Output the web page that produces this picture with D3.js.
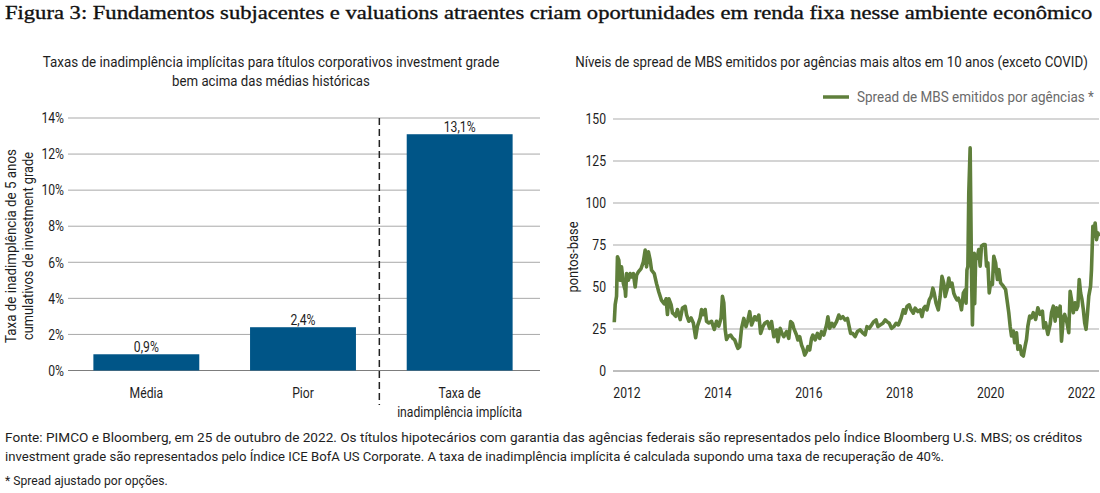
<!DOCTYPE html>
<html><head><meta charset="utf-8">
<script src="https://cdn.jsdelivr.net/npm/d3@7/dist/d3.min.js"></script>
<style>
body{margin:0;background:#fff;}
svg{display:block;}
text{font-family:Roboto,"Liberation Sans",sans-serif;fill:#1e1e1e;}
text.serif{font-family:"Liberation Serif","DejaVu Serif",serif;fill:#111;stroke:#111;stroke-width:0.35px;}
</style></head><body>
<svg id="c" width="1100" height="493"></svg>
<script>
// ---------- DATA ----------
const titleText = "Figura 3: Fundamentos subjacentes e valuations atraentes criam oportunidades em renda fixa nesse ambiente econômico";
const leftTitle = ["Taxas de inadimplência implícitas para títulos corporativos investment grade", "bem acima das médias históricas"];
const leftAxisTitle = ["Taxa de inadimplência de 5 anos", "cumulativos de investment grade"];
const barCategories = ["Média", "Pior", "Taxa de\ninadimplência implícita"];
const barValues = [0.9, 2.4, 13.1];
const barLabels = ["0,9%", "2,4%", "13,1%"];
const barTicks = [0, 2, 4, 6, 8, 10, 12, 14];

const rightTitle = "Níveis de spread de MBS emitidos por agências mais altos em 10 anos (exceto COVID)";
const rightAxisTitle = "pontos-base";
const legendLabel = "Spread de MBS emitidos por agências *";
const spreadTicksY = [0, 25, 50, 75, 100, 125, 150];
const spreadTicksX = [2012, 2014, 2016, 2018, 2020, 2022];
const spreadYears = [
 2011.72,2011.74,2011.77,2011.79,2011.82,2011.85,2011.88,2011.92,2011.96,2011.97,2011.99,
 2012.03,2012.07,2012.10,2012.14,2012.18,2012.21,2012.25,2012.31,2012.36,2012.40,2012.43,2012.47,2012.51,2012.54,2012.60,2012.65,2012.70,2012.76,2012.82,2012.86,2012.89,2012.92,2012.97,
 2013.00,2013.04,2013.07,2013.11,2013.17,2013.22,2013.28,2013.31,2013.36,2013.41,2013.46,2013.51,2013.55,2013.61,2013.64,2013.68,2013.72,2013.75,2013.80,2013.86,2013.92,2013.97,
 2014.02,2014.07,2014.10,2014.13,2014.16,2014.19,2014.23,2014.28,2014.33,2014.37,2014.41,2014.44,2014.48,2014.52,2014.57,2014.62,2014.66,2014.70,2014.74,2014.77,2014.81,2014.85,2014.90,2014.94,2014.99,
 2015.03,2015.09,2015.14,2015.18,2015.23,2015.29,2015.32,2015.37,2015.41,2015.45,2015.51,2015.56,2015.60,2015.64,2015.67,2015.73,2015.76,2015.80,2015.84,2015.87,2015.91,2015.95,2015.98,
 2016.02,2016.06,2016.09,2016.14,2016.19,2016.24,2016.28,2016.33,2016.39,2016.42,2016.46,2016.51,2016.55,2016.61,2016.66,2016.70,2016.75,2016.80,2016.85,2016.88,2016.92,2016.96,
 2017.02,2017.07,2017.13,2017.18,2017.24,2017.28,2017.33,2017.38,2017.43,2017.48,2017.52,2017.57,2017.63,2017.68,2017.72,2017.77,2017.82,2017.87,2017.92,2017.97,
 2018.03,2018.08,2018.12,2018.16,2018.21,2018.25,2018.30,2018.34,2018.40,2018.45,2018.49,2018.53,2018.56,2018.60,2018.65,2018.69,2018.73,2018.76,2018.80,2018.85,2018.89,2018.93,2018.97,
 2019.00,2019.04,2019.08,2019.11,2019.15,2019.19,2019.22,2019.26,2019.29,2019.33,2019.36,2019.40,2019.44,2019.46,2019.48,2019.50,2019.52,2019.55,2019.56,2019.58,2019.60,2019.62,2019.64,2019.65,2019.67,2019.71,2019.74,2019.77,2019.80,2019.84,2019.88,2019.91,2019.94,2019.97,
 2020.00,2020.04,2020.07,2020.11,2020.15,2020.18,2020.22,2020.28,2020.33,2020.37,2020.40,2020.43,2020.46,2020.50,2020.53,2020.57,2020.60,2020.65,2020.68,2020.72,2020.76,2020.79,2020.82,2020.86,2020.90,2020.94,2020.99,
 2021.04,2021.09,2021.14,2021.17,2021.21,2021.26,2021.31,2021.34,2021.38,2021.42,2021.45,2021.49,2021.53,2021.56,2021.60,2021.63,2021.68,2021.72,2021.75,2021.78,2021.82,2021.86,2021.89,2021.92,2021.95,2021.98,
 2022.01,2022.04,2022.07,2022.10,2022.13,2022.16,2022.20,2022.22,2022.25,2022.27,2022.30,2022.33,2022.36,2022.39
];
const spreadValues = [
 29,39.5,44.5,68,66,54,62,52,48,44.5,58,
 54,58,56,58,50,57,59,61,65,72,62,71,66,60,58,52,47,42,40,43,33.6,43,39.5,
 34.6,33.6,32.6,36.6,30.6,37.5,38.5,33.6,29.6,31.6,28.6,19.8,26.7,31.6,36.6,33.6,36.6,29.6,28.6,29.6,24.7,29.6,
 26.7,31.6,44.5,40.5,24.7,18.8,20.8,21.4,19.4,18.5,15.5,13.5,14.5,25.4,31.3,26.4,30.4,35.3,27.4,29.4,32.3,30.4,33.3,22.4,26.4,
 28.4,29.4,25.4,29.4,20.4,24.4,17.5,25.4,22.4,20.4,23.4,19.4,29.4,28.4,25.4,21.4,18.5,20.4,15.5,13.5,9.5,11.5,14.5,
 12.5,19.4,21.4,18.5,22.4,19.4,23.4,21.4,27.4,32.3,25.4,28.4,26.4,29.4,33.3,31.3,32.3,30.4,31.3,27.4,22.4,22.5,
 20.5,23.5,24.5,22.9,21.5,26.4,25.4,27.4,29.4,30.4,26.4,27.4,28.4,30.4,29.4,28.4,25.4,26.4,28.4,27.4,
 31.4,36.4,34.4,38.4,39.4,36.4,34.4,37.4,35.4,36.4,32.4,37.4,38.4,36.4,42.3,44.3,49.3,46.3,40.4,36.4,44.3,56.3,52.3,
 44.3,48.3,55.3,50.3,52.3,46.3,44.3,42.3,43.3,40.4,36.4,46.3,48.3,40.4,60.2,62.2,106,132.8,108,58,27.4,52.3,70,40,66,68.3,72.3,62.4,74.3,75.2,75.2,62.4,64.4,46.5,
 52.5,51.5,68.3,64.4,54.5,60.4,52.5,50.5,48.5,40.6,34.7,26.7,20.8,23.8,16.8,22.8,12.9,14.9,9.9,8.9,14.9,18.8,26.7,32.7,31.7,34.7,30.7,
 37.6,33.7,35.6,25.7,28.7,21.8,27.7,34.7,38.6,29.7,37.6,32.7,38.6,17.8,31.7,33.7,28.7,22.8,47.5,42.6,34.7,40.6,36.6,38.6,54.5,46.5,
 42.6,36.6,28.7,24.8,33.7,44.6,50.5,60.4,86.1,80.2,88.1,78.2,82.2,80.2
];
const footnotes = [
 "Fonte: PIMCO e Bloomberg, em 25 de outubro de 2022. Os títulos hipotecários com garantia das agências federais são representados pelo Índice Bloomberg U.S. MBS; os créditos",
 "investment grade são representados pelo Índice ICE BofA US Corporate. A taxa de inadimplência implícita é calculada supondo uma taxa de recuperação de 40%.",
 "* Spread ajustado por opções."
];

// ---------- DRAW ----------
const svg = d3.select("#c");
const BAR = "#005587", LINE = "#5f7f3b", GRID = "#a9a9a9", AXIS = "#7d7d7d";
const CONDENSE = 0.84;

// text helper: horizontally scales a text either to a target width or by the condensed factor
function txt(parent, s, o) {
  const t = parent.append("text").attr("font-size", o.size || 14).attr("text-anchor", o.anchor || "start").text(s);
  if (o.cls) t.attr("class", o.cls);
  if (o.fill) t.style("fill", o.fill);
  if (o.dy) t.attr("dy", o.dy);
  const nat = t.node().getComputedTextLength();
  const sx = o.width ? o.width / nat : CONDENSE;
  t.attr("transform", `translate(${o.x},${o.y})${o.rot ? ` rotate(${o.rot})` : ""} scale(${sx},1)`);
  return t;
}

txt(svg, titleText, { cls: "serif", x: 5, y: 19, size: 19, width: 1088 });

// ----- left panel -----
const xB = d3.scaleBand().domain(barCategories).range([68, 538]).paddingInner(0.324).paddingOuter(0.162);
const yB = d3.scaleLinear().domain([0, 14]).range([370.5, 118]);
const L = svg.append("g");
const lw = [457, 198];
leftTitle.forEach((s, i) => txt(L, s, { x: 271, y: 67 + i * 19, anchor: "middle", width: lw[i] }));

L.selectAll("line.g").data(barTicks).join("line")
  .attr("x1", 68).attr("x2", 540).attr("y1", d => yB(d)).attr("y2", d => yB(d))
  .attr("stroke", d => d === 0 ? AXIS : GRID).attr("stroke-width", 1);
barTicks.forEach(d => txt(L, d + "%", { x: 64, y: yB(d), dy: "0.36em", anchor: "end", size: 14.5 }));
L.selectAll("rect.bar").data(barValues).join("rect").attr("class", "bar")
  .attr("x", (d, i) => xB(barCategories[i])).attr("width", xB.bandwidth())
  .attr("y", d => yB(d)).attr("height", d => yB(0) - yB(d)).attr("fill", BAR);
barValues.forEach((d, i) => txt(L, barLabels[i], { x: xB(barCategories[i]) + xB.bandwidth() / 2, y: yB(d) - 2.5, anchor: "middle", size: 14.5 }));
barCategories.forEach(c => {
  c.split("\n").forEach((s, j) => txt(L, s, { x: xB(c) + xB.bandwidth() / 2, y: 398 + j * 19, anchor: "middle", size: 14.5 }));
});
const dashX = (xB(barCategories[1]) + xB.bandwidth() + xB(barCategories[2])) / 2 - 2;
L.append("line").attr("x1", dashX).attr("x2", dashX).attr("y1", 118).attr("y2", 405)
  .attr("stroke", "#222").attr("stroke-width", 1.5).attr("stroke-dasharray", "7,4");
const law = [194, 188];
leftAxisTitle.forEach((s, i) => txt(L, s, { x: 15.5 + i * 17.5, y: 246, rot: -90, anchor: "middle", width: law[i] }));

// ----- right panel -----
const xS = d3.scaleLinear().domain([2012, 2022]).range([627, 1081.5]);
const yS = d3.scaleLinear().domain([0, 150]).range([371, 119]);
const R = svg.append("g");
txt(R, rightTitle, { x: 831.5, y: 67, anchor: "middle", width: 513 });
R.append("line").attr("x1", 823).attr("x2", 849).attr("y1", 97).attr("y2", 97).attr("stroke", LINE).attr("stroke-width", 3.5);
txt(R, legendLabel, { x: 857, y: 102, width: 237, fill: "#6a6a6a" });

R.selectAll("line.g").data(spreadTicksY).join("line")
  .attr("x1", 613).attr("x2", 1099).attr("y1", d => yS(d)).attr("y2", d => yS(d))
  .attr("stroke", d => d === 0 ? AXIS : d === 150 ? "#d6d6d6" : GRID).attr("stroke-width", d => d === 150 ? 2 : 1);
spreadTicksY.forEach(d => txt(R, String(d), { x: 606, y: yS(d), dy: "0.36em", anchor: "end", size: 14.5 }));
spreadTicksX.forEach(d => txt(R, String(d), { x: xS(d), y: 398, anchor: "middle", size: 14.5 }));
txt(R, rightAxisTitle, { x: 578, y: 257, rot: -90, anchor: "middle", width: 71 });

const pts = spreadYears.map((y, i) => [y, spreadValues[i]]);
R.append("path").datum(pts)
  .attr("d", d3.line().x(d => xS(d[0])).y(d => yS(d[1])))
  .attr("fill", "none").attr("stroke", LINE).attr("stroke-width", 3.6).attr("stroke-linejoin", "round");

// ----- footnotes -----
const fw = [1078, 940, 163];
const fy = [442, 461, 485];
footnotes.forEach((s, i) => txt(svg, s, { x: 5, y: fy[i], size: 13.5, width: fw[i] }));
</script>
</body></html>
